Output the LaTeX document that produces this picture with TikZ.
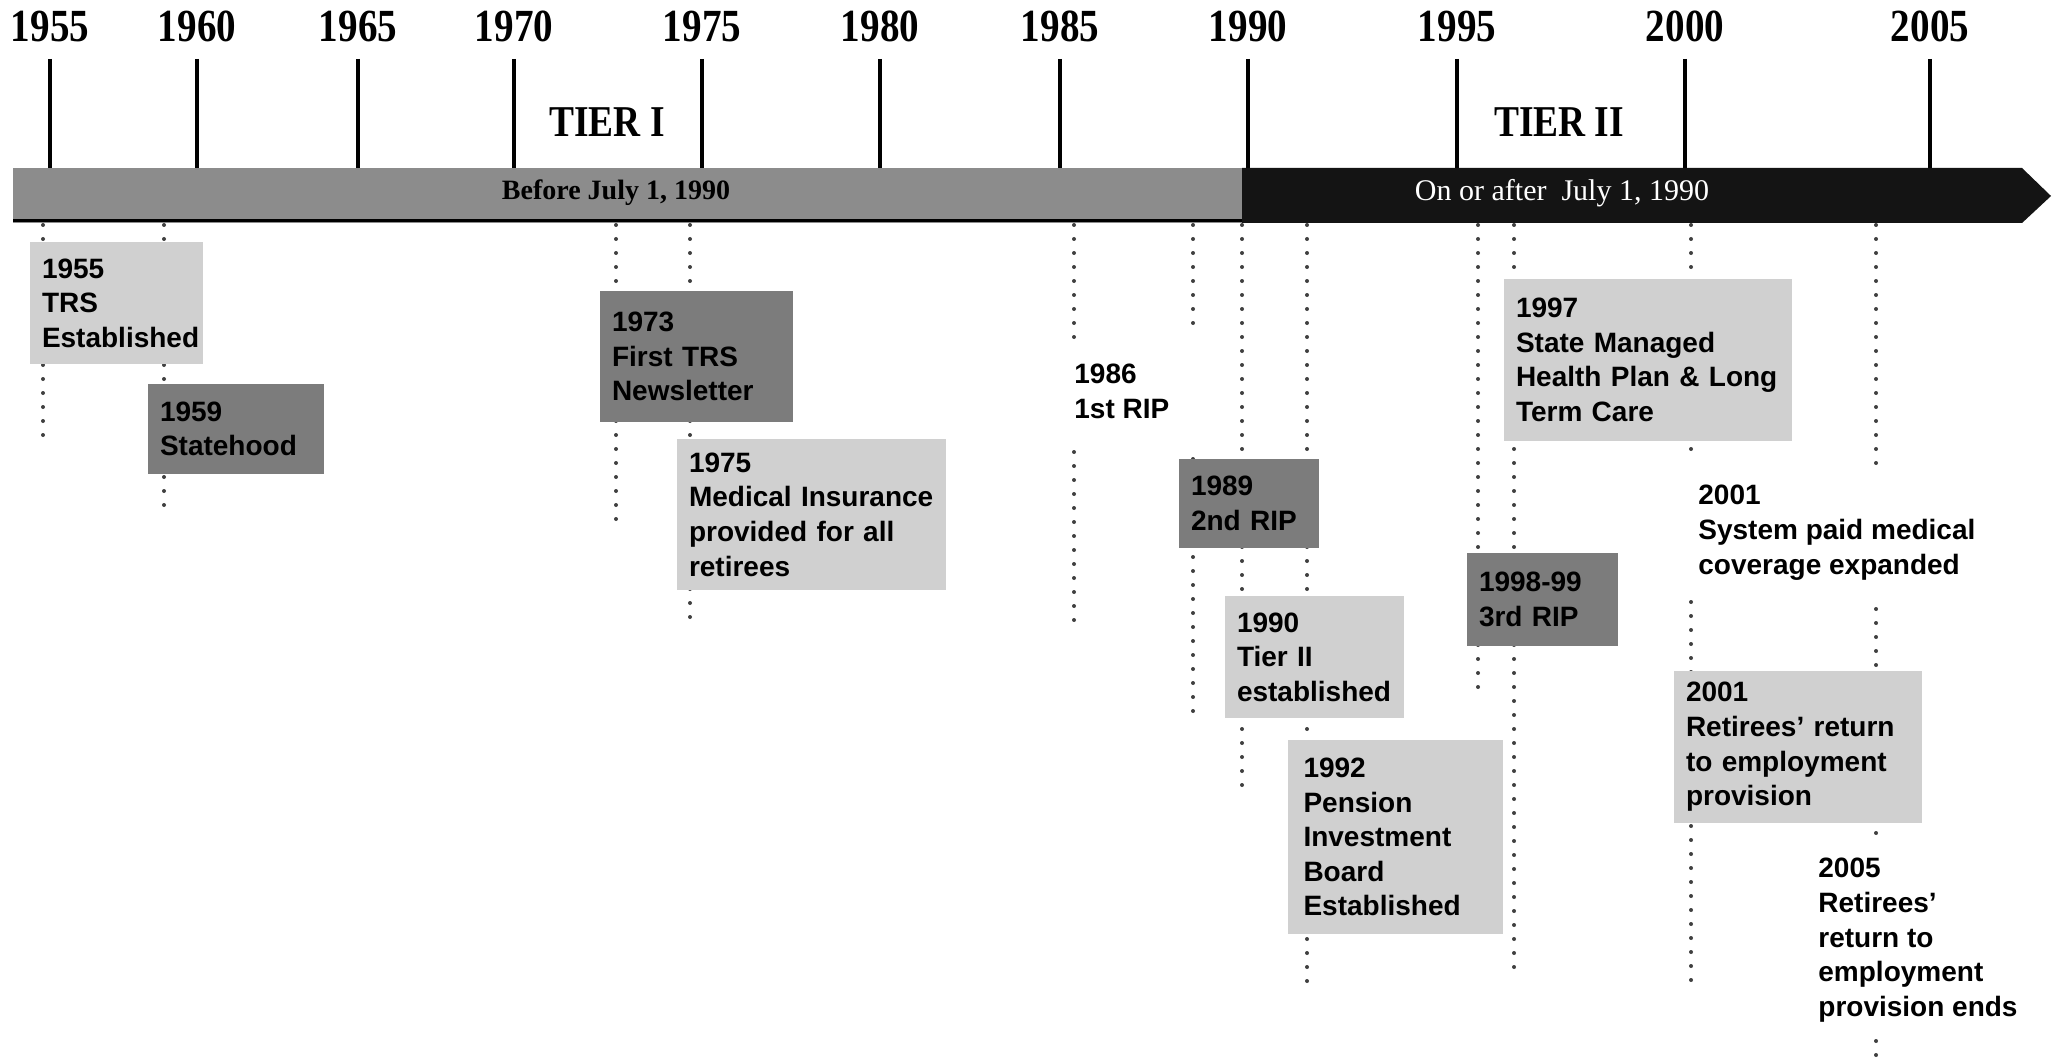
\documentclass[tikz,border=0pt]{standalone}
\usepackage{fontspec}
\setmainfont{Liberation Sans}
\newfontfamily\yearfont{Liberation Serif}[FakeStretch=0.85]
\newfontfamily\barfont{Liberation Serif}
\definecolor{lightbox}{HTML}{D0D0D0}
\definecolor{darkbox}{HTML}{7C7C7C}
\definecolor{tierone}{HTML}{8C8C8C}
\definecolor{tiertwo}{HTML}{141414}
\definecolor{dotgray}{HTML}{404040}

\begin{document}
\begin{tikzpicture}[x=0.5pt,y=-0.5pt,
    yearlbl/.style={font=\yearfont\bfseries\fontsize{23}{26}\selectfont},
    tierlbl/.style={font=\yearfont\bfseries\fontsize{22}{26}\selectfont},
    tick/.style={line width=2pt},
    leader/.style={draw=dotgray,line width=2pt,line cap=round,dash pattern=on 0pt off 7pt},
    evt/.style={font=\bfseries\fontsize{14}{17.3}\selectfont,align=left,inner xsep=6pt,inner ysep=0pt},
    light/.style={evt,fill=lightbox},
    dark/.style={evt,fill=darkbox},
    plain/.style={evt,anchor=north west,inner sep=0pt}]

  \useasboundingbox (0,0) rectangle (2054,1059);

  % years and ticks
  \foreach \yr/\x in {1955/50,1960/197,1965/358,1970/514,1975/702,1980/880,
                      1985/1060,1990/1248,1995/1457,2000/1685,2005/1930} {
    \node[yearlbl] (y\yr) at (\x,26) {\yr};
    \draw[tick] (\x,59) -- (\x,168);
  }

  \node[tierlbl] (tier1) at (607,122) {TIER I};
  \node[tierlbl] (tier2) at (1559,122) {TIER II};

  % the bar
  \fill[tierone] (13,168) rectangle (1242,223);
  \draw[line width=1.5pt] (13,221) -- (1242,221);
  \fill[tiertwo] (1242,168) -- (2022,168) -- (2051,196) -- (2022,223) -- (1242,223) -- cycle;
  \node[font=\barfont\bfseries\fontsize{14}{16}\selectfont] (before) at (616,193) {Before July 1, 1990};
  \node[font=\barfont\fontsize{15}{17}\selectfont,text=white] (after) at (1562,193) {On or after\ \ July 1, 1990};

  % dotted leaders
  \foreach \x/\a/\b in {43/225/439,164/225/517,616/225/531,690/225/629,
                        1074/225/340,1074/452/622,1193/225/337,1193/459/714,
                        1242/225/792,1307/225/995,1478/225/688,1514/225/976,
                        1691/225/459,1691/602/982,1876/225/465,1876/609/838,
                        1876/1041/1059}
    \draw[leader] (\x,\a) -- (\x,\b);

  % events
  \node[light,minimum width=86.5pt,minimum height=61pt,text width=74.5pt] (e1955) at (116.5,303) {1955\\TRS\\Established};
  \node[dark,minimum width=88pt,minimum height=45pt,text width=76pt] (e1959) at (236,429) {1959\\Statehood};
  \node[dark,minimum width=96.5pt,minimum height=65.5pt,text width=84.5pt] (e1973) at (696.5,356.5) {1973\\First TRS\\Newsletter};
  \node[light,minimum width=134.5pt,minimum height=75.5pt,text width=122.5pt] (e1975) at (811.5,514.5) {1975\\Medical Insurance\\provided for all\\retirees};
  \node[plain] (e1986) at (1074,364) {1986\\1st RIP};
  \node[dark,minimum width=70pt,minimum height=44.5pt,text width=58pt] (e1989) at (1249,503.5) {1989\\2nd RIP};
  \node[light,minimum width=89.5pt,minimum height=61pt,text width=77.5pt] (e1990) at (1314.5,657) {1990\\Tier II\\established};
  \node[light,minimum width=107.5pt,minimum height=97pt,text width=92pt] (e1992) at (1395.5,837) {1992\\Pension\\Investment\\Board\\Established};
  \node[light,minimum width=144pt,minimum height=81pt,text width=132pt] (e1997) at (1648,360) {1997\\State Managed\\Health Plan \& Long\\Term Care};
  \node[dark,minimum width=75.5pt,minimum height=46.5pt,text width=63.5pt] (e1998) at (1542.5,599.5) {1998-99\\3rd RIP};
  \node[plain] (e2001a) at (1698,485) {2001\\System paid medical\\coverage expanded};
  \node[light,minimum width=124pt,minimum height=76pt,text width=112pt] (e2001b) at (1798,747) {2001\\Retirees' return\\to employment\\provision};
  \node[plain] (e2005) at (1818,858) {2005\\Retirees'\\return to\\employment\\provision ends};

\end{tikzpicture}
\end{document}
